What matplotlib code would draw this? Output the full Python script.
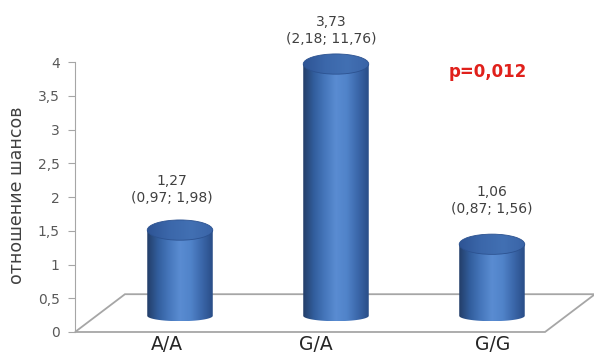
import numpy as np
import matplotlib.pyplot as plt
from matplotlib.patches import Polygon, Ellipse, PathPatch
from matplotlib.path import Path
from matplotlib.colors import LinearSegmentedColormap

# data
genotypes = ['A/A', 'G/A', 'G/G']
odds = [1.27, 3.73, 1.06]
ci_low = [0.97, 2.18, 0.87]
ci_high = [1.98, 11.76, 1.56]
p_value = '0,012'
yticks = [0, 0.5, 1, 1.5, 2, 2.5, 3, 3.5, 4]


def ru(v, fmt='%.2f'):
    return (fmt % v).replace('.', ',')


# layout of the fake 3d scene (data units)
floor_x0, floor_x1 = -0.673, 2.34
depth_dx, depth_dy = 0.32, 0.56
base = 0.24
cyl_w = 0.42
top_h = 0.15
bot_h = 0.08
label_x = [-0.083, 0.872, 2.006]
note_x = [-0.05, 0.97, 2.0]
note_dy = [0.84, 0.74, 0.89]

body_cmap = LinearSegmentedColormap.from_list(
    'cyl', ['#233d68', '#325e9d', '#4677bc', '#5a8cd2', '#5083c9', '#3b67aa', '#294d87'])
top_cmap = LinearSegmentedColormap.from_list(
    'cyltop', ['#2e5494', '#3b67aa', '#4270b3', '#3a64a7'])

fig = plt.figure(figsize=(5.94, 3.54), dpi=100)
ax = fig.add_axes([0, 0, 1, 1])

# floor
floor = Polygon([(floor_x0, 0), (floor_x1, 0),
                 (floor_x1 + depth_dx, depth_dy), (floor_x0 + depth_dx, depth_dy)],
                closed=True, facecolor='white', edgecolor='#a6a6a6', lw=1.3, zorder=1)
ax.add_patch(floor)

grad = np.linspace(0, 1, 256).reshape(1, -1)
for i, v in enumerate(odds):
    x = i
    top = base + v
    t = np.linspace(np.pi, 2 * np.pi, 60)
    bx = x + cyl_w / 2 * np.cos(t)
    by = base + bot_h * np.sin(t)
    verts = [(x - cyl_w / 2, top), (x + cyl_w / 2, top)]
    verts += list(zip(bx[::-1], by[::-1]))
    verts.append((x - cyl_w / 2, top))
    body = PathPatch(Path(verts, closed=True), facecolor='none', edgecolor='none', zorder=3)
    ax.add_patch(body)
    im = ax.imshow(grad, cmap=body_cmap, extent=[x - cyl_w / 2, x + cyl_w / 2, base - bot_h, top],
                   aspect='auto', zorder=3, interpolation='bicubic')
    im.set_clip_path(body)

    cap = Ellipse((x, top), cyl_w, 2 * top_h, facecolor='none', edgecolor='none', zorder=4)
    ax.add_patch(cap)
    im2 = ax.imshow(grad, cmap=top_cmap, extent=[x - cyl_w / 2, x + cyl_w / 2, top - top_h, top + top_h],
                    aspect='auto', zorder=4)
    im2.set_clip_path(cap)
    ax.add_patch(Ellipse((x, top), cyl_w, 2 * top_h, facecolor='none',
                         edgecolor='#2c5290', lw=0.6, zorder=5))

    ax.text(note_x[i], v + note_dy[i], '%s\n(%s; %s)' % (ru(odds[i]), ru(ci_low[i]), ru(ci_high[i])),
            ha='center', va='center', fontsize=10, color='#404040', linespacing=1.3, zorder=6)
    ax.text(label_x[i], -0.19, genotypes[i], ha='center', va='center',
            fontsize=13.5, color='#262626')

ax.text(1.97, 3.85, 'p=' + p_value, color='#e0201b', fontsize=12, fontweight='bold',
        ha='center', va='center')

ax.set_xlim(-1.154, 2.654)
ax.set_ylim(-0.326, 4.919)

for s in ['top', 'right', 'bottom']:
    ax.spines[s].set_visible(False)
ax.spines['left'].set_position(('data', floor_x0))
ax.spines['left'].set_bounds(0, 4)
ax.spines['left'].set_color('#a6a6a6')
ax.set_xticks([])
ax.set_yticks(yticks)
ax.set_yticklabels([ru(t, '%g') for t in yticks])
ax.tick_params(axis='y', direction='out', length=5, color='#a6a6a6',
               labelsize=10, labelcolor='#595959', pad=6)
ax.patch.set_alpha(0)

fig.text(17 / 594, 1 - 195 / 354, 'отношение шансов', rotation=90, fontsize=12.5,
         color='#404040', ha='center', va='center')

fig.savefig('out.png', dpi=100)
